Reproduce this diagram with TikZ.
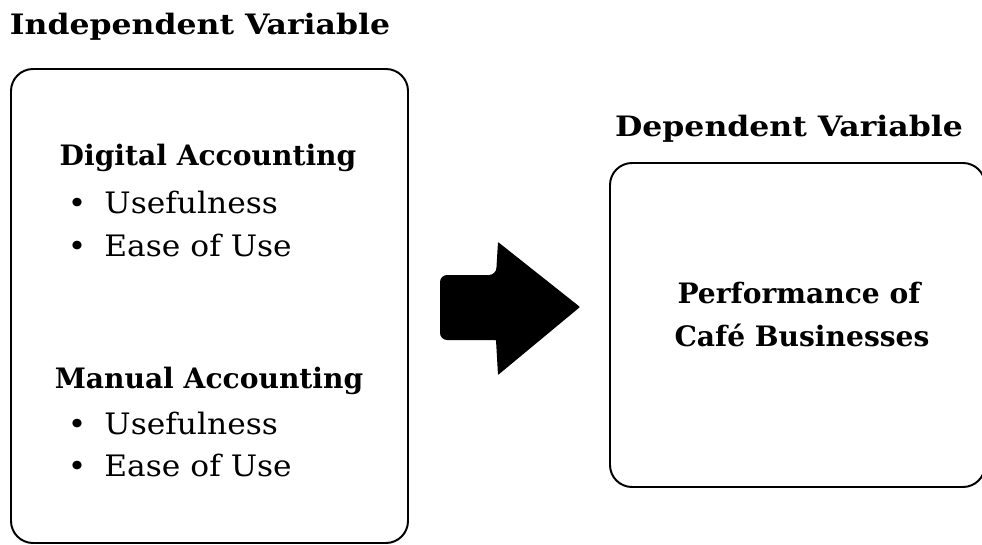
\documentclass[tikz,border=0pt]{standalone}
\usepackage{fontspec}
\setmainfont{DejaVu Serif}
\newfontfamily\titlefont[FakeStretch=1.12]{DejaVu Serif}
\newfontfamily\itemfont[FakeStretch=1.06]{DejaVu Serif}
\usetikzlibrary{positioning}
\newcommand{\itemdot}{\textbullet\ \hspace{5.7pt}}
\tikzset{%
	vartitle/.style = {anchor=base, font=\titlefont\fontsize{20}{24}\selectfont\bfseries},
	varhead/.style  = {anchor=base, font=\fontsize{20}{24}\selectfont\bfseries},
	varitem/.style  = {anchor=base west, font=\itemfont\fontsize{21}{24}\selectfont},
	varbox/.style   = {draw, line width=1.4pt, rounded corners=0.55cm},
	bigarrow/.style = {fill=black, rounded corners=0.5pt},
}
\begin{document}
\begin{tikzpicture}[x=0.025cm, y=-0.025cm]
		\useasboundingbox (0,0) rectangle (982,545);
		% boxes
		\draw[varbox] (11,69) rectangle (408,543);
		\draw[varbox] (610,163) rectangle (985,487);
		
		\node[vartitle] (indep) at (200,35) {Independent Variable};
		\node[vartitle] (dep) at (789,137) {Dependent Variable};
		
		\node[varhead] (dig) at (208,165) {Digital Accounting};
		\node[varitem] (dig1) at (63,213) {\itemdot Usefulness};
		\node[varitem] (dig2) at (63,257) {\itemdot Ease of Use};
		
		\node[varhead] (man) at (209,388) {Manual Accounting};
		\node[varitem] (man1) at (63,434) {\itemdot Usefulness};
		\node[varitem] (man2) at (63,476) {\itemdot Ease of Use};
		
		\node[varhead] (perf) at (799,303) {Performance of};
		\node[varhead] (cafe) at (802,346) {Café Businesses};
		
		% arrow
		\fill[bigarrow] (440,275) [rounded corners=5pt] -- (496,275) [rounded corners=0.5pt] -- (498,242) -- (580,307) -- (498,375) -- (496,340) [rounded corners=5pt] -- (440,340) -- cycle;
		\end{tikzpicture}
\end{document}
